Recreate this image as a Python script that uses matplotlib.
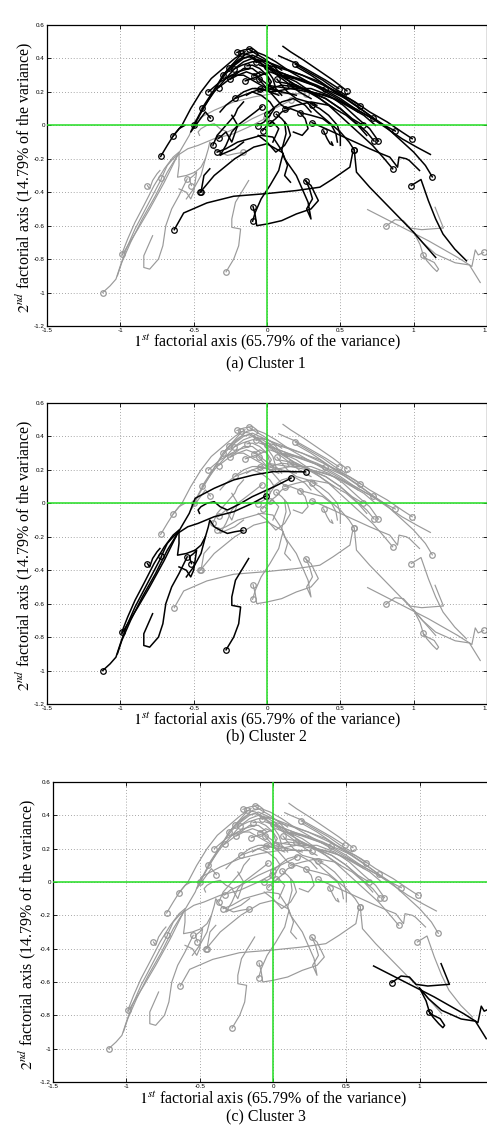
import matplotlib
matplotlib.use("Agg")
import matplotlib.pyplot as plt

plt.rcParams['mathtext.fontset'] = 'stix'

# trajectoires par cluster (premier point = cercle)
traj_c1 = [
    [(-0.725,-0.186),(-0.68,-0.12),(-0.64,-0.064),(-0.58,0.0),(-0.52,0.1),(-0.45,0.2),(-0.38,0.28),(-0.3,0.34),(-0.22,0.4),(-0.15,0.44)],
    [(-0.64,-0.064),(-0.6,-0.02),(-0.56,0.0)],
    [(-0.443,0.102),(-0.4,0.16),(-0.34,0.24),(-0.28,0.31),(-0.22,0.36),(-0.16,0.4),(-0.1,0.42),(0.0,0.38)],
    [(-0.386,0.044),(-0.42,0.08),(-0.52,-0.04),(-0.46,0.06),(-0.38,0.18),(-0.3,0.3),(-0.24,0.36),(-0.18,0.42)],
    [(-0.368,-0.118),(-0.34,-0.06),(-0.3,-0.02),(-0.26,0.02),(-0.22,0.06),(-0.2,0.1),(-0.16,0.14)],
    [(-0.33,-0.078),(-0.28,-0.04),(-0.24,-0.1),(-0.22,-0.05),(-0.2,0.0),(-0.24,0.06)],
    [(-0.45,-0.4),(-0.43,-0.3),(-0.39,-0.26)],
    [(-0.455,-0.4),(-0.36,-0.3),(-0.22,-0.2),(-0.09,-0.13),(0.0,-0.11),(0.1,-0.16)],
    [(-0.095,-0.486),(-0.08,-0.54),(-0.07,-0.6),(0.0,-0.59),(0.1,-0.57),(0.2,-0.53),(0.3,-0.5),(0.35,-0.45),(0.3,-0.36),(0.26,-0.33)],
    [(-0.098,-0.574),(-0.08,-0.52),(-0.04,-0.44),(0.02,-0.36),(0.08,-0.27),(0.1,-0.2),(0.11,-0.17)],
    [(0.266,-0.332),(0.29,-0.38),(0.31,-0.44),(0.27,-0.5),(0.3,-0.56),(0.28,-0.46),(0.2,-0.3),(0.12,-0.2),(0.1,-0.15),(0.13,-0.05),(0.12,0.02)],
    [(0.595,-0.148),(0.61,-0.28),(0.7,-0.37),(0.8,-0.46),(0.9,-0.55),(1.0,-0.64),(1.08,-0.72),(1.15,-0.79)],
    [(0.984,-0.36),(1.05,-0.324),(1.1,-0.45),(1.15,-0.56),(1.2,-0.65),(1.28,-0.74),(1.36,-0.81)],
    [(-0.632,-0.624),(-0.568,-0.524),(-0.41,-0.464),(-0.227,-0.424),(0.0,-0.408),(0.2,-0.39),(0.36,-0.37),(0.45,-0.32),(0.565,-0.25),(0.585,-0.16)],
    [(1.127,-0.308),(1.08,-0.24),(1.0,-0.16),(0.9,-0.08),(0.8,0.0),(0.7,0.06),(0.6,0.12),(0.5,0.18),(0.4,0.24),(0.3,0.3),(0.2,0.35)],
    [(0.857,-0.26),(0.8,-0.2),(0.72,-0.12),(0.62,-0.04),(0.52,0.04),(0.42,0.12),(0.3,0.2),(0.2,0.26),(0.1,0.3)],
    [(0.99,-0.08),(0.92,-0.04),(0.82,0.02),(0.7,0.08),(0.6,0.14),(0.48,0.2),(0.36,0.25),(0.24,0.3),(0.1,0.34),(0.0,0.36)],
    [(0.875,-0.034),(0.8,0.0),(0.7,0.05),(0.6,0.1),(0.5,0.16),(0.38,0.22),(0.25,0.26),(0.12,0.3)],
    [(0.73,-0.094),(0.68,-0.04),(0.6,0.02),(0.5,0.1),(0.4,0.16),(0.3,0.2),(0.2,0.24),(0.08,0.26)],
    [(0.76,-0.094),(0.7,-0.02),(0.62,0.04),(0.52,0.12),(0.42,0.18),(0.3,0.22),(0.15,0.22),(0.0,0.24)],
    [(0.652,0.002),(0.58,0.04),(0.5,0.1),(0.4,0.16),(0.28,0.2),(0.16,0.22),(0.04,0.2),(-0.08,0.22)],
    [(0.72,0.046),(0.64,0.1),(0.54,0.16),(0.44,0.2),(0.32,0.24),(0.2,0.28),(0.08,0.32),(-0.04,0.36)],
    [(0.636,0.116),(0.56,0.16),(0.46,0.2),(0.36,0.26),(0.24,0.3),(0.12,0.34),(0.0,0.38),(-0.1,0.4)],
    [(0.545,0.206),(0.45,0.27),(0.35,0.33),(0.25,0.39),(0.16,0.44),(0.109,0.472)],
    [(0.489,0.22),(0.4,0.27),(0.3,0.32),(0.2,0.37),(0.12,0.4),(0.08,0.416)],
    [(0.193,0.366),(0.28,0.32),(0.38,0.27),(0.46,0.22),(0.54,0.18),(0.55,0.19)],
    [(0.398,0.216),(0.34,0.24),(0.25,0.27),(0.14,0.3),(0.05,0.33),(-0.05,0.36)],
    [(0.16,0.24),(0.3,0.2),(0.46,0.16),(0.6,0.1),(0.72,0.04),(0.82,-0.02),(0.92,-0.08),(1.02,-0.13),(1.114,-0.174)],
    [(0.307,0.016),(0.4,-0.02),(0.5,-0.06),(0.6,-0.1),(0.7,-0.14),(0.78,-0.17),(0.837,-0.19),(0.89,-0.25),(0.9,-0.19),(0.95,-0.2),(0.97,-0.21),(1.04,-0.27)],
    [(0.386,-0.034),(0.41,-0.08),(0.43,-0.11),(0.45,-0.12),(0.44,-0.1)],
    [(0.307,0.124),(0.36,0.1),(0.42,0.06),(0.48,0.0),(0.5,-0.06),(0.5,-0.12)],
    [(0.227,0.076),(0.3,0.06),(0.38,0.04),(0.44,0.0),(0.47,-0.05),(0.48,-0.1)],
    [(0.023,0.016),(0.06,0.04),(0.1,0.08),(0.16,0.1),(0.22,0.08),(0.26,0.04),(0.28,-0.02),(0.24,-0.06),(0.18,-0.04)],
    [(-0.064,-0.002),(-0.02,0.02),(0.02,0.06),(0.05,0.1),(0.02,0.14),(-0.04,0.18),(-0.1,0.2),(-0.14,0.18)],
    [(-0.03,-0.032),(0.0,0.0),(0.04,0.02),(0.08,-0.02),(0.06,-0.06),(0.04,-0.1)],
    [(0.0,0.066),(0.04,0.1),(0.1,0.14),(0.18,0.16),(0.26,0.12),(0.3,0.08)],
    [(0.064,0.066),(0.1,0.04),(0.14,0.0),(0.16,-0.06),(0.12,-0.12),(0.06,-0.16),(0.0,-0.1),(-0.06,-0.06)],
    [(-0.034,0.112),(-0.08,0.08),(-0.14,0.04),(-0.2,0.0),(-0.24,-0.04),(-0.28,-0.12),(-0.32,-0.18),(-0.3,-0.17),(-0.22,-0.14),(-0.16,-0.1)],
    [(-0.205,0.436),(-0.16,0.45),(-0.1,0.46),(-0.07,0.44),(-0.06,0.42),(-0.1,0.4),(-0.16,0.38),(-0.22,0.34),(-0.28,0.28)],
    [(-0.125,0.456),(-0.08,0.43),(-0.02,0.4),(0.04,0.36),(0.1,0.3),(0.16,0.26),(0.22,0.22)],
    [(-0.18,0.43),(-0.12,0.42),(-0.05,0.38),(0.0,0.33),(0.04,0.28),(0.06,0.22),(0.1,0.18)],
    [(-0.227,0.336),(-0.17,0.36),(-0.1,0.38),(-0.03,0.38),(0.04,0.34),(0.1,0.3),(0.18,0.28)],
    [(-0.25,0.276),(-0.2,0.3),(-0.14,0.32),(-0.08,0.3),(-0.02,0.26),(0.04,0.22),(0.1,0.2)],
    [(-0.148,0.266),(-0.1,0.28),(-0.04,0.3),(0.02,0.32),(0.08,0.3),(0.14,0.28)],
    [(-0.09,0.296),(-0.05,0.32),(0.0,0.3),(0.03,0.26),(0.0,0.22),(-0.06,0.2)],
    [(-0.057,0.276),(-0.02,0.24),(0.02,0.2),(0.06,0.16),(0.1,0.12),(0.14,0.1)],
    [(-0.136,0.356),(-0.1,0.36),(-0.05,0.34),(0.0,0.3),(0.02,0.24)],
    [(-0.073,0.376),(-0.04,0.39),(0.0,0.38),(0.05,0.36),(0.1,0.33)],
    [(0.0,0.346),(0.04,0.32),(0.1,0.28),(0.16,0.24),(0.22,0.2),(0.3,0.16)],
    [(0.068,0.276),(0.1,0.24),(0.14,0.2),(0.2,0.16),(0.28,0.14),(0.34,0.12)],
    [(-0.045,0.216),(-0.1,0.2),(-0.16,0.18),(-0.22,0.16),(-0.28,0.12),(-0.32,0.08)],
    [(-0.33,0.226),(-0.28,0.26),(-0.22,0.3),(-0.16,0.34),(-0.1,0.34),(-0.04,0.3)],
    [(-0.216,0.164),(-0.16,0.2),(-0.1,0.22),(-0.04,0.22),(0.02,0.2),(0.08,0.18)],
    [(-0.34,-0.16),(-0.28,-0.14),(-0.2,-0.1),(-0.12,-0.08),(-0.04,-0.06),(0.04,-0.07),(0.1,-0.15),(0.14,-0.24),(0.12,-0.3),(0.16,-0.34)],
    [(0.595,-0.148),(0.56,-0.1),(0.5,-0.04),(0.42,0.02),(0.34,0.08),(0.27,0.14)],
    [(-0.3,0.3),(-0.24,0.36),(-0.18,0.4),(-0.12,0.41),(-0.06,0.38),(0.02,0.34),(0.12,0.28),(0.24,0.22),(0.36,0.16),(0.46,0.1)],
    [(-0.26,0.34),(-0.2,0.38),(-0.14,0.43),(-0.08,0.44),(-0.02,0.42),(0.06,0.38),(0.16,0.32),(0.28,0.26),(0.4,0.2),(0.52,0.14),(0.62,0.08)],
    [(-0.4,0.2),(-0.32,0.26),(-0.24,0.3),(-0.16,0.3),(-0.08,0.26),(0.0,0.22),(0.1,0.2),(0.2,0.18)],
    [(-0.5,0.0),(-0.44,0.1),(-0.36,0.2),(-0.28,0.28),(-0.2,0.32),(-0.12,0.34)],
    [(0.12,0.1),(0.2,0.12),(0.3,0.14),(0.42,0.12),(0.54,0.06),(0.62,0.0),(0.68,-0.06)],
    [(0.02,0.22),(0.1,0.24),(0.2,0.23),(0.3,0.2),(0.4,0.18),(0.5,0.14),(0.58,0.1),(0.66,0.06),(0.74,0.0)],
]

traj_c2 = [
    [(0.263,0.188),(0.15,0.19),(0.045,0.19),(-0.09,0.17),(-0.227,0.14),(-0.36,0.09),(-0.49,0.03),(-0.53,-0.06),(-0.61,-0.18),(-0.68,-0.28),(-0.76,-0.42),(-0.85,-0.56),(-0.93,-0.7),(-0.99,-0.82),(-1.02,-0.9)],
    [(0.163,0.15),(0.05,0.1),(-0.1,0.04),(-0.2,-0.01),(-0.27,-0.04),(-0.32,-0.02),(-0.36,0.01),(-0.41,0.0),(-0.45,-0.02),(-0.47,-0.04),(-0.46,-0.06)],
    [(-0.007,0.044),(-0.1,0.0),(-0.227,-0.05),(-0.36,-0.08),(-0.47,-0.12),(-0.54,-0.14),(-0.61,-0.18),(-0.7,-0.34),(-0.8,-0.5),(-0.88,-0.62),(-0.95,-0.72),(-0.99,-0.78)],
    [(-0.165,-0.162),(-0.22,-0.17),(-0.27,-0.18),(-0.32,-0.16),(-0.36,-0.14),(-0.39,-0.1),(-0.4,-0.14),(-0.42,-0.2),(-0.45,-0.3),(-0.5,-0.38),(-0.55,-0.44)],
    [(-0.815,-0.36),(-0.8,-0.38),(-0.78,-0.33),(-0.75,-0.29),(-0.73,-0.27)],
    [(-0.72,-0.316),(-0.68,-0.24),(-0.64,-0.2),(-0.6,-0.17),(-0.6,-0.24),(-0.61,-0.31),(-0.55,-0.3),(-0.49,-0.28),(-0.45,-0.25),(-0.42,-0.2)],
    [(-0.544,-0.32),(-0.6,-0.42),(-0.65,-0.5),(-0.69,-0.6),(-0.71,-0.72),(-0.74,-0.8),(-0.8,-0.86),(-0.84,-0.85),(-0.84,-0.78),(-0.8,-0.7),(-0.78,-0.66)],
    [(-0.515,-0.36),(-0.53,-0.32),(-0.5,-0.3),(-0.48,-0.28),(-0.5,-0.4),(-0.52,-0.44),(-0.55,-0.4),(-0.6,-0.38)],
    [(-0.99,-0.77),(-0.95,-0.68),(-0.9,-0.58),(-0.84,-0.48),(-0.77,-0.36),(-0.7,-0.26),(-0.64,-0.19),(-0.6,-0.16)],
    [(-1.12,-1.0),(-1.07,-0.96),(-1.03,-0.92),(-1.0,-0.84),(-0.96,-0.74),(-0.9,-0.62),(-0.84,-0.52),(-0.78,-0.42),(-0.72,-0.32)],
    [(-0.279,-0.876),(-0.227,-0.8),(-0.193,-0.72),(-0.18,-0.62),(-0.24,-0.61),(-0.24,-0.56),(-0.215,-0.46),(-0.125,-0.33)],
]

traj_c3 = [
    [(1.477,-0.76),(1.44,-0.775),(1.42,-0.745),(1.397,-0.844),(1.3,-0.79),(1.1,-0.69),(0.9,-0.6),(0.686,-0.504)],
    [(0.809,-0.604),(0.873,-0.564),(0.93,-0.57),(0.975,-0.614),(1.055,-0.624),(1.203,-0.614),(1.146,-0.49)],
    [(1.066,-0.778),(1.09,-0.81),(1.13,-0.85),(1.158,-0.874),(1.17,-0.86),(1.14,-0.82),(1.07,-0.79),(1.044,-0.714),(0.998,-0.634),(1.06,-0.7),(1.15,-0.77),(1.283,-0.822),(1.38,-0.835),(1.454,-0.94)],
]

clusters = [traj_c1, traj_c2, traj_c3]
captions = ["(a) Cluster 1", "(b) Cluster 2", "(c) Cluster 3"]
xticks = [-1.5, -1, -0.5, 0, 0.5, 1, 1.5]
xticklabels = ["-1.5", "-1", "-0.5", "0", "0.5", "1", "1.5"]
yticks = [-1.2, -1, -0.8, -0.6, -0.4, -0.2, 0, 0.2, 0.4, 0.6]
yticklabels = ["-1.2", "-1", "-0.8", "-0.6", "-0.4", "-0.2", "0", "0.2", "0.4", "0.6"]

xlabel = r"$1^{st}$ factorial axis (65.79% of the variance)"
ylabel = r"$2^{nd}$ factorial axis (14.79% of the variance)"

W, H = 487, 1127
fig = plt.figure(figsize=(W/100, H/100), dpi=100)

# position des axes en pixels : gauche, haut, droite, bas
boxes = [(47, 25, 487, 326), (47, 403, 487, 704), (53, 782, 493, 1082)]
label_y = [342, 720, 1099]
caption_y = [363, 736, 1116]
ylab_x = [24, 24, 27]

serif = ['Liberation Serif', 'DejaVu Serif']

def draw_traj(ax, t, color, lw, z):
    xs = [p[0] for p in t]
    ys = [p[1] for p in t]
    ax.plot(xs, ys, color=color, lw=lw, zorder=z)
    ax.plot(xs[0], ys[0], 'o', ms=4, mfc='none', mec=color, mew=0.9, zorder=z)

for k in range(3):
    l, t, r, b = boxes[k]
    ax = fig.add_axes([l/W, 1 - b/H, (r-l)/W, (b-t)/H])
    ax.set_xlim(-1.5, 1.5)
    ax.set_ylim(-1.2, 0.6)
    ax.set_xticks(xticks)
    ax.set_xticklabels(xticklabels)
    ax.set_yticks(yticks)
    ax.set_yticklabels(yticklabels)
    ax.tick_params(direction='in', length=3, width=0.6, labelsize=4.5, pad=1.5,
                   top=True, right=True)
    for lab in ax.get_xticklabels() + ax.get_yticklabels():
        lab.set_family('Liberation Sans')
    ax.grid(True, ls=(0, (1, 2.5)), color='#8a8a8a', lw=0.6)
    ax.set_axisbelow(True)
    for s in ax.spines.values():
        s.set_linewidth(0.9)

    # d'abord les autres clusters en gris
    for j in range(3):
        if j == k:
            continue
        for tr in clusters[j]:
            draw_traj(ax, tr, '#9a9a9a', 0.85, 2)
    for tr in clusters[k]:
        draw_traj(ax, tr, 'black', 1.1, 3)

    ax.axhline(0, color='#22dd22', lw=1.1, zorder=4)
    ax.axvline(0, color='#22dd22', lw=1.1, zorder=4)

    fig.text((l + r) / 2 / W, 1 - label_y[k]/H, xlabel, ha='center', va='center',
             fontsize=11.5, family=serif)
    fig.text(266/W, 1 - caption_y[k]/H, captions[k], ha='center', va='center',
             fontsize=11.5, family=serif)
    fig.text(ylab_x[k]/W, 1 - ((t + b) / 2 + 2)/H, ylabel, ha='center', va='center',
             rotation=90, fontsize=11.5, family=serif)

fig.savefig("out.png", dpi=100)
